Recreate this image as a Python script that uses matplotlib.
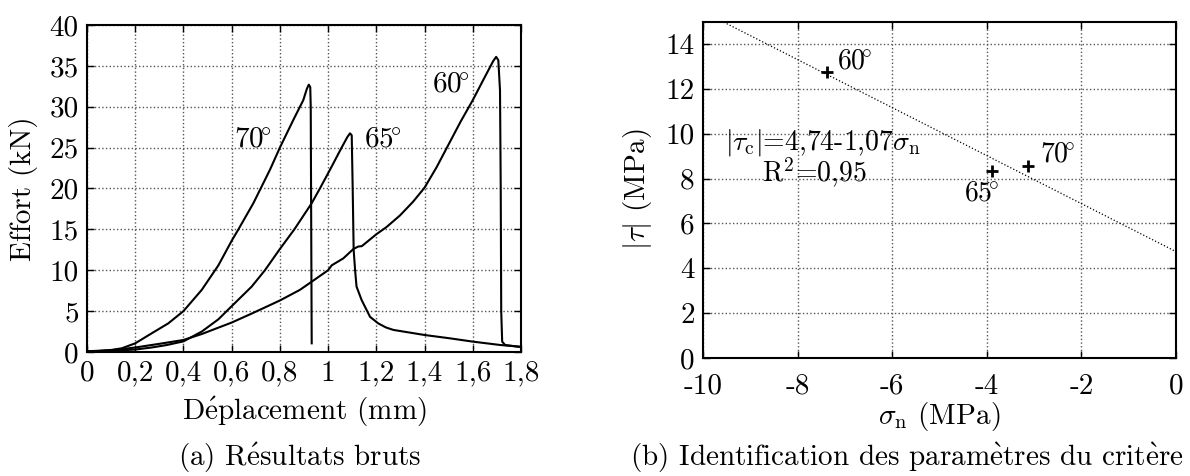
import numpy as np
import matplotlib
matplotlib.use("Agg")
import matplotlib.pyplot as plt

plt.rcParams['font.family'] = ['cmr10', 'DejaVu Serif']
plt.rcParams['mathtext.fontset'] = 'cm'
plt.rcParams['axes.formatter.use_mathtext'] = True
plt.rcParams['font.size'] = 21

# --- (a) courbes effort / deplacement
x70 = [0, 0.05, 0.1, 0.144, 0.2, 0.268, 0.337, 0.4, 0.476, 0.545, 0.6, 0.628, 0.69, 0.759,
       0.8, 0.856, 0.897, 0.912, 0.92, 0.926, 0.928, 0.93, 0.932]
y70 = [0.1, 0.15, 0.25, 0.45, 1.06, 2.28, 3.5, 5.0, 7.6, 10.6, 13.6, 15.0, 18.2, 22.3,
       25.0, 28.4, 30.8, 32.2, 32.7, 32.4, 30.0, 15.0, 1.06]

x65 = [0, 0.1, 0.2, 0.268, 0.33, 0.4, 0.476, 0.545, 0.6, 0.683, 0.738, 0.8, 0.86,
       0.932, 0.966, 1.008, 1.056, 1.08, 1.091, 1.098, 1.102, 1.106, 1.112, 1.118, 1.139,
       1.174, 1.208, 1.24, 1.271, 1.4, 1.506, 1.6, 1.713, 1.796]
y65 = [0.1, 0.15, 0.3, 0.55, 0.85, 1.3, 2.5, 4.0, 5.6, 8.0, 10.0, 12.6, 15.0,
       18.2, 20.0, 22.3, 25.0, 26.3, 26.75, 26.5, 20.0, 12.5, 10.0, 8.0, 6.36,
       4.3, 3.5, 3.0, 2.7, 2.08, 1.67, 1.27, 0.86, 0.65]

x60 = [0, 0.1, 0.2, 0.3, 0.4, 0.476, 0.6, 0.683, 0.8, 0.883, 0.932, 1.0, 1.015, 1.063,
       1.105, 1.125, 1.14, 1.2, 1.243, 1.298, 1.353, 1.4, 1.45, 1.5, 1.55, 1.6, 1.644,
       1.685, 1.697, 1.706, 1.713, 1.716, 1.718, 1.722, 1.734, 1.8]
y60 = [0.05, 0.2, 0.55, 1.0, 1.47, 2.2, 3.6, 4.7, 6.3, 7.6, 8.6, 10.0, 10.6, 11.45,
       12.6, 12.9, 12.95, 14.4, 15.3, 16.7, 18.4, 20.1, 22.6, 25.4, 28.2, 30.8, 33.3,
       35.6, 36.1, 35.7, 32.0, 20.0, 5.0, 1.27, 0.86, 0.6]

lab_a = ['$70\\!^{\\circ}$', '$65\\!^{\\circ}$', '$60\\!^{\\circ}$']
lab_a_x = [0.61, 1.15, 1.43]
lab_a_y = [25.9, 25.9, 32.6]

xt_a = [0, 0.2, 0.4, 0.6, 0.8, 1, 1.2, 1.4, 1.6, 1.8]
yt_a = [0, 5, 10, 15, 20, 25, 30, 35, 40]

# --- (b) critere
sig = [-7.39, -3.90, -3.12]
tau = [12.77, 8.33, 8.56]
lab_b = ['$60\\!^{\\circ}$', '$65\\!^{\\circ}$', '$70\\!^{\\circ}$']
fit_a, fit_b = 4.74, -1.07
xt_b = [-10, -8, -6, -4, -2, 0]
yt_b = [0, 2, 4, 6, 8, 10, 12, 14]


def style(ax):
    ax.grid(True, linestyle=':', color='#555555', linewidth=1.0)
    ax.tick_params(direction='in', top=True, right=True, length=5, width=1, pad=6)
    for s in ax.spines.values():
        s.set_linewidth(1.5)


fig = plt.figure(figsize=(11.9, 4.76), dpi=100)

ax1 = fig.add_axes([0.0731, 0.2605, 0.3647, 0.687])
for xs, ys in [(x70, y70), (x65, y65), (x60, y60)]:
    ax1.plot(xs, ys, color='black', lw=1.5, solid_joinstyle='round')
for t, tx, ty in zip(lab_a, lab_a_x, lab_a_y):
    ax1.text(tx, ty, t, va='center', ha='left')
ax1.set_xlim(0, 1.8)
ax1.set_ylim(0, 40)
ax1.set_xticks(xt_a)
ax1.set_xticklabels([('%g' % v).replace('.', ',') for v in xt_a])
ax1.set_yticks(yt_a)
ax1.set_yticklabels(['%g' % v for v in yt_a])
ax1.set_xlabel('D$\\acute{\\rm e}$placement (mm)', labelpad=6)
ax1.set_ylabel('Effort (kN)', labelpad=8)
style(ax1)

ax2 = fig.add_axes([0.5908, 0.2479, 0.3975, 0.7069])
xs = np.array([-10, 0])
ax2.plot(xs, fit_a + fit_b * xs, color='black', lw=0.9, linestyle=':')
ax2.plot(sig, tau, '+', color='black', ms=8, mew=2)
ax2.text(sig[0] + 0.22, tau[0] + 0.45, lab_b[0], va='center', ha='left', fontsize=20)
ax2.text(sig[1] - 0.2, tau[1] - 0.98, lab_b[1], va='center', ha='center', fontsize=20)
ax2.text(sig[2] + 0.25, tau[2] + 0.5, lab_b[2], va='center', ha='left', fontsize=20)
ax2.text(-9.53, 9.62, '$|\\tau_{\\rm c}|$=4,74-1,07$\\sigma_{\\rm n}$', va='center', ha='left',
         fontsize=20)
ax2.text(-7.65, 8.3, 'R$^2$=0,95', va='center', ha='center', fontsize=20)
ax2.set_xlim(-10, 0)
ax2.set_ylim(0, 15)
ax2.set_xticks(xt_b)
ax2.set_xticklabels(['%g' % v for v in xt_b])
ax2.set_yticks(yt_b)
ax2.set_yticklabels(['%g' % v for v in yt_b])
style(ax2)
ax2.tick_params(labelsize=21)
ax2.tick_params(axis='x', pad=11)
ax2.set_xlabel('$\\sigma_{\\rm n}$ (MPa)', labelpad=0)
ax2.set_ylabel('$|\\tau|$ (MPa)', labelpad=8)

fig.text(0.252, 0.038, '(a) R$\\acute{\\rm e}$sultats bruts', ha='center', va='center')
fig.text(0.762, 0.038, '(b) Identification des param$\\grave{\\rm e}$tres du crit$\\grave{\\rm e}$re',
         ha='center', va='center')

fig.savefig('out.png', dpi=100)
